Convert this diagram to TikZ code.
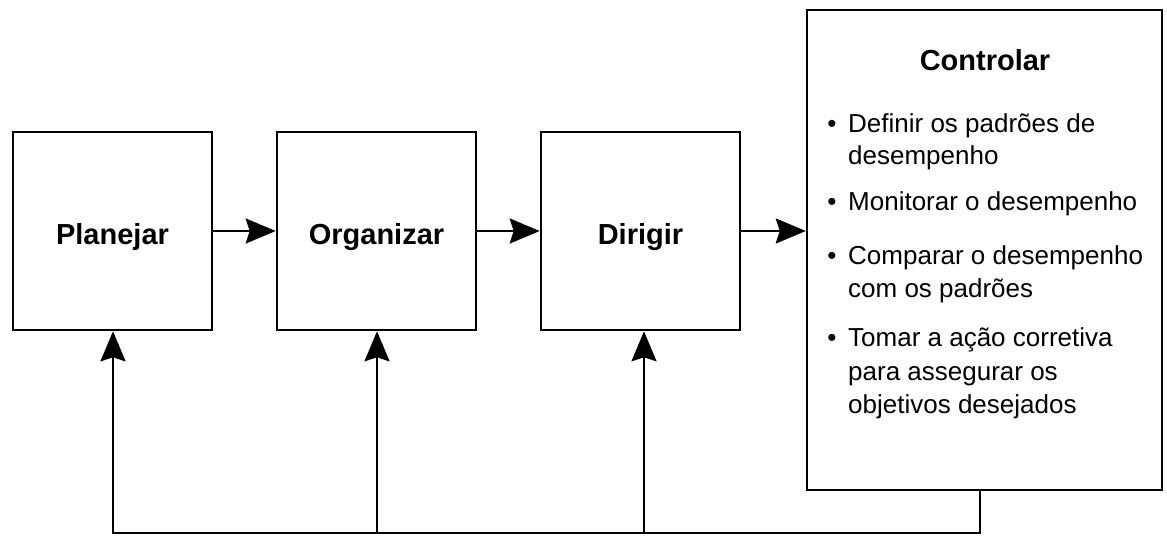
\documentclass[tikz,border=0pt]{standalone}
\usepackage{fontspec}
\setmainfont{Liberation Sans}
\usetikzlibrary{arrows.meta}
\begin{document}
\begin{tikzpicture}[x=1pt,y=-1pt,
  box/.style={draw, line width=2.6pt, minimum width=199pt, minimum height=198pt, inner sep=0pt,
    font=\fontsize{29}{34}\selectfont\bfseries, text height=26pt, text depth=0pt},
  ctrlbox/.style={draw, line width=2.4pt, minimum width=355pt, minimum height=480pt, inner sep=0pt},
  title/.style={anchor=base, inner sep=0pt, font=\fontsize{29}{34}\selectfont\bfseries},
  item/.style={anchor=base west, inner sep=0pt, font=\fontsize{26}{32}\selectfont},
  dot/.style={anchor=base, inner sep=0pt, font=\fontsize{26}{32}\selectfont},
  flow/.style={line width=2.4pt, line join=miter},
  arr/.style={flow, -{Stealth[length=30pt,width=25pt,inset=4pt]}}
]
\useasboundingbox (0,0) rectangle (1167,538);
\node[box] (plan) at (112.5,231) {Planejar};
\node[box] (org) at (376.5,231) {Organizar};
\node[box] (dir) at (640.5,231) {Dirigir};
\node[ctrlbox] (ctrl) at (984.5,250) {};
\node[title] (ctitle) at (985,70) {Controlar};
\node[dot] (d1) at (832,132) {•};
\node[item] (t1a) at (848,132) {Definir os padrões de};
\node[item] (t1b) at (848,164) {desempenho};
\node[dot] (d2) at (832,210) {•};
\node[item] (t2a) at (848,210) {Monitorar o desempenho};
\node[dot] (d3) at (832,264) {•};
\node[item] (t3a) at (848,264) {Comparar o desempenho};
\node[item] (t3b) at (848,297) {com os padrões};
\node[dot] (d4) at (832,346) {•};
\node[item] (t4a) at (848,346) {Tomar a ação corretiva};
\node[item] (t4b) at (848,380) {para assegurar os};
\node[item] (t4c) at (848,413) {objetivos desejados};
\draw[arr] (plan.east) -- (org.west);
\draw[arr] (org.east) -- (dir.west);
\draw[arr] (dir.east) -- (dir.east -| ctrl.west);
\coordinate (fr) at (980,533);
\coordinate (f1) at (113,533);
\coordinate (f2) at (377,533);
\coordinate (f3) at (644,533);
\draw[arr] (ctrl.south -| fr) -- (fr) -- (f1) -- (f1 |- plan.south);
\draw[arr] (f2) -- (f2 |- org.south);
\draw[arr] (f3) -- (f3 |- dir.south);
\end{tikzpicture}
\end{document}
